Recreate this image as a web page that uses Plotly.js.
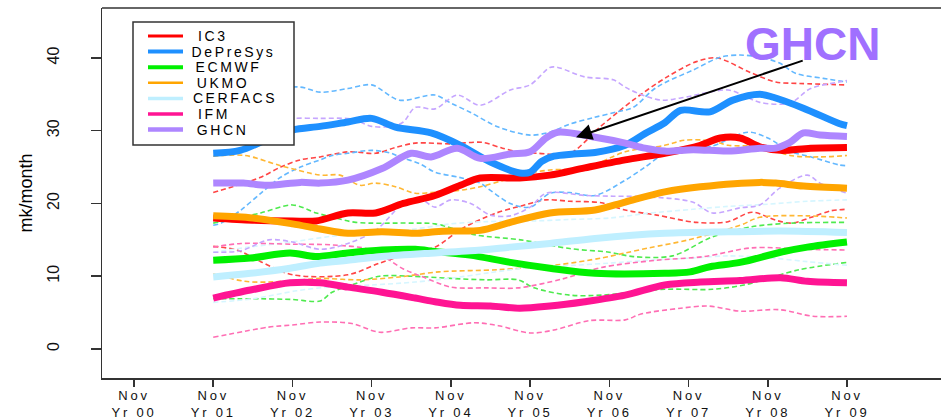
<!DOCTYPE html>
<html><head><meta charset="utf-8">
<script src="https://cdn.plot.ly/plotly-3.0.1.min.js"></script>
<style>
html,body{margin:0;padding:0;background:#fff;overflow:hidden}
#chart{width:941px;height:419px}
.xtick text{letter-spacing:2.8px}
g.annotation text{letter-spacing:2.6px}
g.annotation[data-index="7"] text{letter-spacing:0}
</style></head><body><div id="chart"></div>
<script>
// ---- labels ----
const seriesNames = ['IC3','DePreSys','ECMWF','UKMO','CERFACS','IFM','GHCN'];
const xTickVals = [0,1,2,3,4,5,6,7,8,9];
const xTickText = ['Nov<br>Yr 00','Nov<br>Yr 01','Nov<br>Yr 02','Nov<br>Yr 03','Nov<br>Yr 04','Nov<br>Yr 05','Nov<br>Yr 06','Nov<br>Yr 07','Nov<br>Yr 08','Nov<br>Yr 09'];
const yTickVals = [0,10,20,30,40];
const yTitle = 'mk/month';
const callout = 'GHCN';

// ---- ensemble means (years after Nov Yr 00, mk/month) ----
const ic3MeanX = [1.0,1.5,2.0,2.3,2.7,3.05,3.4,3.8,4.12,4.37,4.87,5.25,5.69,6.2,6.7,7.15,7.4,7.65,7.9,8.16,8.54,9.0];
const ic3MeanY = [18.0,17.7,17.6,17.6,18.7,18.7,20.0,21.1,22.5,23.5,23.5,23.9,24.9,26.0,26.9,28.0,29.0,29.0,27.8,27.3,27.6,27.7];
const dpMeanX = [1.0,1.34,1.72,2.0,2.35,2.7,3.0,3.3,3.75,4.12,4.5,4.87,5.0,5.15,5.3,5.55,5.82,6.2,6.45,6.7,6.9,7.27,7.56,7.9,8.07,8.45,8.9,9.0];
const dpMeanY = [26.9,27.3,29.0,30.1,30.6,31.2,31.7,30.5,29.7,28.0,25.7,24.2,24.3,25.8,26.5,26.8,27.0,28.0,29.6,31.1,32.8,32.6,34.2,35.0,34.6,33.1,31.0,30.7];
const ecMeanX = [1.0,1.47,1.97,2.29,2.7,3.13,3.55,3.8,4.24,4.75,5.25,5.82,6.7,7.02,7.27,7.65,8.16,8.5,9.0];
const ecMeanY = [12.2,12.5,13.2,12.7,13.2,13.6,13.7,13.4,12.9,11.9,11.1,10.4,10.4,10.6,11.3,11.9,13.3,14.0,14.7];
const ukMeanX = [1.0,1.5,2.0,2.35,2.7,3.13,3.55,3.8,4.0,4.37,4.75,5.25,5.82,6.2,6.7,7.15,7.9,8.1,8.45,9.0];
const ukMeanY = [18.3,18.0,17.2,16.5,15.9,16.1,15.9,16.1,16.2,16.3,17.4,18.7,19.1,20.2,21.6,22.3,22.9,22.8,22.4,22.1];
const cfMeanX = [1.0,1.47,1.97,2.35,2.7,3.13,3.8,4.24,4.75,5.25,5.82,6.7,7.5,8.16,9.0];
const cfMeanY = [9.9,10.4,11.1,11.8,12.2,12.7,13.2,13.5,14.0,14.5,15.2,15.9,16.1,16.2,16.0];
const ifmMeanX = [1.0,1.47,1.97,2.35,2.7,3.13,3.55,3.8,4.12,4.5,4.87,5.25,5.69,6.2,6.7,7.15,7.65,8.16,8.5,9.0];
const ifmMeanY = [7.0,8.1,9.1,9.1,8.5,7.8,7.0,6.5,6.0,5.9,5.6,5.9,6.5,7.4,8.8,9.2,9.4,9.8,9.3,9.1];
const ghMeanX = [1.0,1.38,1.68,2.1,2.35,2.7,3.13,3.5,3.75,4.08,4.37,4.75,5.0,5.2,5.35,5.82,6.2,6.45,6.7,7.06,7.5,7.9,8.1,8.28,8.45,8.66,9.0];
const ghMeanY = [22.8,22.8,22.5,22.9,22.8,23.2,24.8,26.9,26.4,27.6,26.2,26.8,27.1,29.0,29.8,29.1,28.3,27.6,27.2,27.4,27.2,27.6,27.6,28.4,29.7,29.4,29.2];

// ---- individual members ----
const ic3M1X = [1.0,1.3,1.6,1.85,2.1,2.35,2.7,3.05,3.3,3.55,4.0,4.4,4.65,4.85,5.1,5.5,5.88,6.3,6.73,7.1,7.36,7.78,8.1,8.4,9.0];
const ic3M1Y = [21.5,22.5,23.6,25.0,26.0,26.4,27.1,26.9,27.7,28.3,28.2,28.4,27.6,27.1,26.9,26.9,30.5,34.2,37.4,39.5,40.0,38.0,36.7,36.5,36.3];
const ic3M2X = [1.0,1.3,1.6,2.0,2.7,3.1,3.55,3.8,4.15,4.55,4.9,5.2,5.5,5.9,6.2,6.6,7.1,7.5,7.8,8.1,8.3,8.55,8.8,9.0];
const ic3M2Y = [14.1,13.6,12.0,10.2,10.2,11.8,13.4,14.0,16.6,18.6,19.7,20.5,20.3,20.1,19.1,18.4,17.4,17.5,18.8,17.7,17.3,18.1,19.0,19.2];
const dpM1X = [1.0,1.35,1.75,2.1,2.35,2.7,3.0,3.35,3.8,4.0,4.25,4.6,5.0,5.25,5.5,5.8,6.1,6.3,6.55,6.7,7.05,7.4,7.65,7.9,8.15,8.35,8.7,9.0];
const dpM1Y = [36.0,35.3,35.8,36.0,35.3,35.8,36.3,34.2,34.9,33.8,32.5,30.5,29.4,29.8,30.9,31.8,32.6,33.2,35.6,36.6,38.3,40.1,40.4,40.1,39.3,37.9,37.2,36.7];
const dpM2X = [1.0,1.1,1.35,1.6,1.85,2.1,2.35,2.5,2.7,3.0,3.25,3.35,3.6,3.8,4.1,4.37,4.5,4.75,5.0,5.25,5.5,5.82,6.2,6.45,6.7,6.9,7.27,7.75,8.0,8.3,8.55,8.9,9.0];
const dpM2Y = [17.0,17.3,19.1,21.4,23.6,25.0,26.0,26.6,26.9,27.3,26.9,26.4,25.5,24.3,23.6,22.8,21.8,20.0,19.5,21.4,21.5,21.1,23.2,25.0,26.9,27.6,27.8,29.8,29.0,27.1,26.4,25.3,25.2];
const ecM1X = [1.0,1.6,2.0,2.3,2.55,2.8,3.5,3.8,4.3,4.88,5.5,6.0,6.3,6.8,7.3,7.8,8.3,9.0];
const ecM1Y = [17.3,18.7,19.8,18.7,18.0,17.4,17.3,17.2,15.7,15.0,13.8,13.3,12.7,12.8,15.4,16.8,17.3,17.4];
const ecM2X = [1.0,1.6,2.0,2.35,2.5,2.8,3.1,3.5,4.0,4.45,4.85,5.05,5.5,5.9,6.7,7.3,7.7,8.4,9.0];
const ecM2Y = [6.9,6.9,6.8,6.6,7.8,9.0,10.0,10.0,9.7,9.5,9.5,8.4,7.4,7.4,8.2,8.2,8.8,10.9,11.9];
const ukM1X = [1.0,1.4,1.85,2.35,2.6,2.85,3.05,3.3,3.55,3.75,4.1,4.37,4.67,5.0,5.25,5.7,6.2,6.7,6.95,7.3,7.5,7.95,8.28,8.66,9.0];
const ukM1Y = [26.5,26.6,25.2,23.9,23.9,22.5,22.8,22.3,21.4,21.5,21.8,22.3,23.2,24.2,24.6,24.9,27.1,28.0,28.7,28.6,28.0,27.8,26.6,26.4,26.6];
const ukM2X = [1.0,1.4,1.7,2.1,2.35,2.85,3.35,3.85,4.6,5.3,5.9,6.2,6.5,7.0,7.65,7.9,8.5,9.0];
const ukM2Y = [10.3,9.3,9.2,9.5,9.7,9.5,9.9,10.6,10.9,11.5,12.5,13.2,13.9,15.0,17.0,18.1,18.3,18.0];
const cfM1X = [1.0,1.45,2.05,2.5,3.1,3.55,4.0,4.45,5.05,5.5,6.0,6.45,7.05,7.5,8.0,8.5,9.0];
const cfM1Y = [13.3,14.0,14.8,15.5,16.0,16.5,17.2,17.5,17.6,17.8,18.0,18.6,19.2,19.6,19.9,20.3,20.5];
const cfM2X = [1.0,1.5,2.05,2.45,3.0,3.55,4.05,4.5,5.0,5.55,6.0,6.5,7.05,7.5,8.05,8.5,9.0];
const cfM2Y = [6.4,6.9,8.0,8.5,8.8,9.2,9.8,10.5,11.2,11.5,11.8,12.2,12.5,12.8,12.5,12.0,11.5];
const ifmM1X = [1.0,1.7,2.0,2.35,2.75,3.1,3.5,3.8,4.3,4.6,5.0,5.3,5.75,6.2,6.4,6.9,7.25,7.65,8.15,8.57,9.0];
const ifmM1Y = [1.6,3.0,3.3,3.7,3.5,2.3,2.9,2.9,3.6,3.2,2.2,2.6,3.9,4.0,4.8,5.6,5.9,5.2,5.4,4.5,4.5];
const ifmM2X = [1.0,1.35,2.0,2.5,3.0,3.4,3.65,4.0,4.45,4.85,5.4,5.9,6.6,7.2,7.8,8.5,9.0];
const ifmM2Y = [14.0,14.5,14.4,14.3,13.6,11.0,9.9,8.5,8.4,8.4,9.6,11.2,12.2,12.7,13.9,13.7,13.6];
const ghM1X = [1.0,1.25,1.6,2.0,2.35,2.75,3.0,3.25,3.4,3.55,3.8,4.08,4.37,4.75,5.0,5.25,5.35,5.69,6.05,6.2,6.35,6.65,6.9,7.5,7.7,7.9,8.28,8.54,8.9,9.0];
const ghM1Y = [32.8,31.0,31.3,31.7,31.7,31.6,30.6,30.6,31.2,33.2,33.0,34.9,33.5,35.6,36.3,38.7,38.7,37.4,37.0,36.0,35.2,34.2,34.5,35.6,34.8,33.9,33.8,35.8,36.7,36.9];
const ghM2X = [1.0,1.35,1.7,2.0,2.35,2.7,3.05,3.4,3.6,3.8,4.0,4.25,4.5,4.75,5.0,5.2,5.7,6.05,6.5,7.05,7.3,7.65,7.9,8.15,8.5,8.66,9.0];
const ghM2Y = [13.3,13.5,15.0,14.7,13.7,14.5,16.3,20.0,20.7,19.5,20.5,20.0,18.4,18.3,19.5,21.4,21.1,21.0,20.9,20.2,18.7,19.4,19.8,22.1,23.9,22.8,21.4];

// ---- styles ----
const meanColors = ['#FF0000','#1E90FF','#00F000','#FFA500','#BFEFFF','#FF1493','#AE86FF'];
const thinColors = ['#FF4545','#63B8FF','#4EEA4E','#FFB733','#D6F6FF','#FF6EB4','#C6A6FF'];
const legendWidths = [3,4,4,2.5,3.5,3.5,4.5];

const meansX = [ic3MeanX,dpMeanX,ecMeanX,ukMeanX,cfMeanX,ifmMeanX,ghMeanX];
const meansY = [ic3MeanY,dpMeanY,ecMeanY,ukMeanY,cfMeanY,ifmMeanY,ghMeanY];
const membersX = [[ic3M1X,ic3M2X],[dpM1X,dpM2X],[ecM1X,ecM2X],[ukM1X,ukM2X],[cfM1X,cfM2X],[ifmM1X,ifmM2X],[ghM1X,ghM2X]];
const membersY = [[ic3M1Y,ic3M2Y],[dpM1Y,dpM2Y],[ecM1Y,ecM2Y],[ukM1Y,ukM2Y],[cfM1Y,cfM2Y],[ifmM1Y,ifmM2Y],[ghM1Y,ghM2Y]];

const traces = [];
seriesNames.forEach((n,i)=>{
  membersX[i].forEach((mx,j)=>{
    traces.push({x:mx,y:membersY[i][j],type:'scatter',mode:'lines',name:n+' member',showlegend:false,hoverinfo:'skip',
      line:{color:thinColors[i],width:1.6,dash:'5px,3px',shape:'spline',smoothing:0.9}});
  });
});
seriesNames.forEach((n,i)=>{
  traces.push({x:meansX[i],y:meansY[i],type:'scatter',mode:'lines',name:n,showlegend:false,
    line:{color:meanColors[i],width:7,shape:'spline',smoothing:0.9}});
});

// ---- page geometry ----
const W=941,H=419,ML=102,MT=8,MB=41;
const PW=W-ML, PH=H-MT-MB;
const fx = p => (p-ML)/PW;
const fy = p => (H-MB-p)/PH;

const shapes = [
  {type:'line',xref:'paper',yref:'paper',x0:0,x1:1,y0:1,y1:1,line:{color:'#333',width:1.5},layer:'above'},
  {type:'rect',xref:'paper',yref:'paper',x0:fx(133),x1:fx(294),y0:fy(145),y1:fy(22),line:{color:'#333',width:1.5},fillcolor:'#ffffff',layer:'above'}
];
const annotations = [];
seriesNames.forEach((n,i)=>{
  const yy = fy(36+i*15.6);
  shapes.push({type:'line',xref:'paper',yref:'paper',x0:fx(148),x1:fx(183),y0:yy,y1:yy,line:{color:meanColors[i],width:legendWidths[i]},layer:'above'});
  annotations.push({xref:'paper',yref:'paper',x:fx(200),y:yy,xanchor:'left',yanchor:'middle',text:n,showarrow:false,
    font:{family:'Liberation Sans, Arial, sans-serif',size:14,color:'#000'}});
});
annotations.push({xref:'paper',yref:'paper',x:fx(812),y:fy(44),xanchor:'center',yanchor:'middle',text:'<b>'+callout+'</b>',showarrow:false,
  font:{family:'Liberation Sans, Arial, sans-serif',size:46,color:'#A070FF'}});
annotations.push({xref:'x',yref:'y',x:5.58,y:29.1,axref:'x',ayref:'y',ax:8.46,ay:39.7,text:'',showarrow:true,
  arrowhead:2,arrowsize:1.6,arrowwidth:2,arrowcolor:'#000'});

const layout = {
  width:W,height:H,margin:{l:ML,r:0,t:MT,b:MB,pad:0},
  paper_bgcolor:'#fff',plot_bgcolor:'#fff',showlegend:false,hovermode:false,
  xaxis:{range:[-0.404,10.187],tickvals:xTickVals,ticktext:xTickText,showgrid:false,zeroline:false,
    showline:true,linecolor:'#333',linewidth:1.5,ticks:'outside',ticklen:7,tickwidth:1.5,tickcolor:'#333',
    ticklabelstandoff:-2,
    tickfont:{family:'Liberation Sans, Arial, sans-serif',size:13,color:'#111'}},
  yaxis:{range:[-3.99,46.87],tickvals:yTickVals,tickangle:-90,showgrid:false,zeroline:false,
    showline:true,linecolor:'#333',linewidth:1.5,ticks:'outside',ticklen:10,tickwidth:1.5,tickcolor:'#333',
    ticklabelstandoff:25,
    tickfont:{family:'Liberation Sans, Arial, sans-serif',size:16,color:'#111'},
    title:{text:yTitle,font:{family:'Liberation Sans, Arial, sans-serif',size:18,color:'#000'},standoff:8}},
  shapes:shapes,annotations:annotations
};
Plotly.newPlot('chart',traces,layout,{displayModeBar:false,staticPlot:true});
</script></body></html>
